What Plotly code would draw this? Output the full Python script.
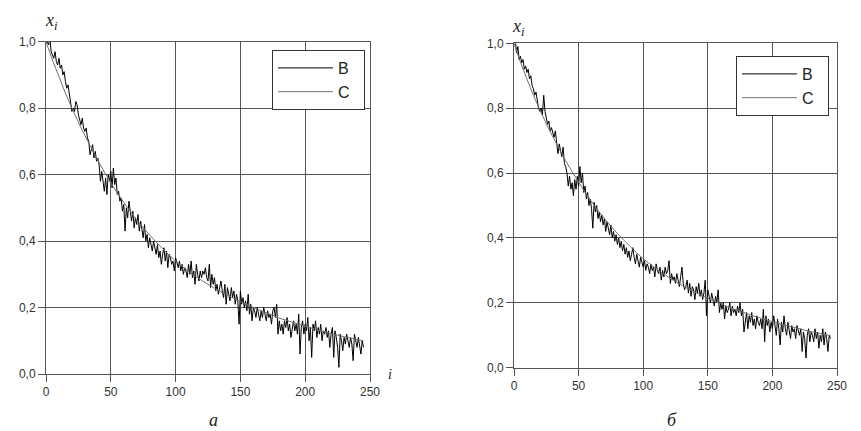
import plotly.graph_objects as go

# ---- data ----
i_B = list(range(1, 246))
B_a = [1.00, 0.99, 1.01, 0.97, 0.96, 0.95, 0.97, 0.94, 0.93, 0.95,
       0.92, 0.93, 0.90, 0.91, 0.88, 0.86, 0.87, 0.84, 0.82, 0.79,
       0.80, 0.79, 0.82, 0.81, 0.78, 0.76, 0.75, 0.77, 0.74, 0.73,
       0.74, 0.71, 0.70, 0.66, 0.68, 0.69, 0.65, 0.67, 0.64, 0.65,
       0.63, 0.58, 0.61, 0.57, 0.55, 0.59, 0.54, 0.60, 0.58, 0.61,
       0.56, 0.62, 0.57, 0.59, 0.54, 0.55, 0.52, 0.53, 0.49, 0.51,
       0.43, 0.50, 0.47, 0.52, 0.48, 0.46, 0.49, 0.44, 0.47, 0.45,
       0.48, 0.43, 0.46, 0.44, 0.41, 0.45, 0.40, 0.42, 0.38, 0.41,
       0.39, 0.37, 0.40, 0.38, 0.36, 0.39, 0.35, 0.37, 0.33, 0.36,
       0.38, 0.34, 0.37, 0.32, 0.36, 0.35, 0.33, 0.34, 0.31, 0.35,
       0.33, 0.32, 0.34, 0.31, 0.33, 0.30, 0.32, 0.31, 0.29, 0.33,
       0.30, 0.34, 0.29, 0.31, 0.27, 0.33, 0.30, 0.28, 0.31, 0.29,
       0.31, 0.30, 0.32, 0.29, 0.28, 0.33, 0.26, 0.30, 0.27, 0.29,
       0.25, 0.27, 0.24, 0.26, 0.28, 0.25, 0.23, 0.27, 0.21, 0.26,
       0.24, 0.22, 0.26, 0.23, 0.25, 0.21, 0.24, 0.22, 0.15, 0.25,
       0.21, 0.23, 0.20, 0.22, 0.19, 0.24, 0.18, 0.21, 0.16, 0.20,
       0.19, 0.17, 0.20, 0.18, 0.16, 0.19, 0.17, 0.20, 0.18, 0.16,
       0.19, 0.17, 0.18, 0.15, 0.19, 0.20, 0.17, 0.21, 0.12, 0.16,
       0.13, 0.15, 0.12, 0.16, 0.14, 0.17, 0.13, 0.15, 0.11, 0.14,
       0.16, 0.13, 0.15, 0.12, 0.18, 0.06, 0.14, 0.16, 0.12, 0.15,
       0.13, 0.17, 0.10, 0.14, 0.05, 0.15, 0.13, 0.16, 0.11, 0.14,
       0.12, 0.15, 0.10, 0.13, 0.12, 0.14, 0.11, 0.13, 0.08, 0.12,
       0.14, 0.05, 0.13, 0.11, 0.08, 0.02, 0.12, 0.10, 0.07, 0.11,
       0.09, 0.12, 0.10, 0.08, 0.11, 0.09, 0.04, 0.12, 0.10, 0.08,
       0.11, 0.09, 0.06, 0.10, 0.08]
B_b = [1.01, 0.97, 0.99, 0.95, 0.96, 0.94, 0.95, 0.92, 0.93, 0.91,
       0.92, 0.89, 0.90, 0.87, 0.86, 0.84, 0.85, 0.82, 0.80, 0.79,
       0.80, 0.78, 0.84, 0.79, 0.77, 0.75, 0.76, 0.73, 0.74, 0.72,
       0.71, 0.73, 0.70, 0.66, 0.69, 0.67, 0.65, 0.68, 0.63, 0.62,
       0.60, 0.56, 0.59, 0.55, 0.57, 0.53, 0.58, 0.55, 0.59, 0.56,
       0.62, 0.57, 0.60, 0.54, 0.56, 0.52, 0.54, 0.50, 0.52, 0.49,
       0.43, 0.51, 0.48, 0.50, 0.46, 0.48, 0.45, 0.47, 0.44, 0.46,
       0.42, 0.45, 0.43, 0.41, 0.44, 0.40, 0.42, 0.39, 0.41, 0.38,
       0.40, 0.37, 0.39, 0.36, 0.38, 0.35, 0.37, 0.34, 0.36, 0.33,
       0.35, 0.37, 0.34, 0.32, 0.35, 0.33, 0.31, 0.34, 0.32, 0.31,
       0.33, 0.30, 0.32, 0.31, 0.29, 0.32, 0.30, 0.31, 0.28, 0.32,
       0.30, 0.29, 0.31, 0.27, 0.30, 0.28, 0.31, 0.29, 0.30, 0.33,
       0.26, 0.29, 0.27, 0.28, 0.26, 0.29, 0.27, 0.25, 0.28, 0.31,
       0.26, 0.24, 0.25, 0.27, 0.23, 0.26, 0.22, 0.25, 0.24, 0.21,
       0.25, 0.23, 0.26, 0.22, 0.24, 0.21, 0.23, 0.27, 0.16, 0.24,
       0.22, 0.20, 0.23, 0.21, 0.19, 0.22, 0.20, 0.24, 0.17, 0.20,
       0.18, 0.20, 0.15, 0.19, 0.17, 0.18, 0.20, 0.16, 0.19, 0.17,
       0.18, 0.16, 0.19, 0.17, 0.20, 0.16, 0.18, 0.11, 0.15, 0.17,
       0.12, 0.16, 0.14, 0.17, 0.13, 0.15, 0.12, 0.16, 0.14, 0.13,
       0.15, 0.12, 0.18, 0.08, 0.16, 0.13, 0.15, 0.11, 0.14, 0.12,
       0.16, 0.13, 0.10, 0.15, 0.12, 0.07, 0.14, 0.11, 0.16, 0.12,
       0.10, 0.14, 0.12, 0.09, 0.13, 0.11, 0.12, 0.09, 0.13, 0.11,
       0.10, 0.12, 0.05, 0.11, 0.09, 0.03, 0.10, 0.12, 0.08, 0.11,
       0.10, 0.08, 0.12, 0.09, 0.11, 0.06, 0.10, 0.08, 0.12, 0.07,
       0.11, 0.09, 0.05, 0.10, 0.09]

i_C = list(range(0, 250, 5))
C_a = [1.00, 0.945, 0.895, 0.845, 0.80, 0.758, 0.718, 0.68, 0.643, 0.608,
       0.576, 0.545, 0.516, 0.489, 0.464, 0.44, 0.418, 0.397, 0.377, 0.358,
       0.34, 0.324, 0.309, 0.295, 0.282, 0.27, 0.258, 0.247, 0.237, 0.227,
       0.218, 0.209, 0.20, 0.192, 0.184, 0.177, 0.168, 0.162, 0.156, 0.150,
       0.144, 0.138, 0.132, 0.127, 0.122, 0.117, 0.112, 0.108, 0.104, 0.100]
C_b = [1.00, 0.942, 0.890, 0.840, 0.795, 0.752, 0.712, 0.675, 0.638, 0.604,
       0.572, 0.541, 0.512, 0.485, 0.460, 0.436, 0.414, 0.393, 0.373, 0.354,
       0.336, 0.320, 0.305, 0.291, 0.278, 0.266, 0.254, 0.243, 0.233, 0.223,
       0.214, 0.205, 0.197, 0.189, 0.181, 0.174, 0.167, 0.160, 0.154, 0.148,
       0.142, 0.136, 0.131, 0.126, 0.121, 0.116, 0.111, 0.107, 0.103, 0.099]

series_names = ["B", "C"]
x_ticks = [0, 50, 100, 150, 200, 250]
y_ticks = [0.0, 0.2, 0.4, 0.6, 0.8, 1.0]

# page has an 8px body margin; the figure fills the rest of the 861x431 window
W, H, OFF = 853, 423, 8


def px(xp):
    return (xp - OFF) / W


def py(yp):
    return 1 - (yp - OFF) / H


fig = go.Figure()
panels = [("x", "y", "legend", B_a, C_a), ("x2", "y2", "legend2", B_b, C_b)]
for xa, ya, lg, B, C in panels:
    fig.add_trace(go.Scatter(x=i_B, y=B, mode="lines", name=series_names[0] + "\u00a0\u00a0",
                             xaxis=xa, yaxis=ya, legend=lg, line=dict(color="black", width=1)))
    fig.add_trace(go.Scatter(x=i_C, y=C, mode="lines", name=series_names[1] + "\u00a0\u00a0",
                             xaxis=xa, yaxis=ya, legend=lg,
                             line=dict(color="#707070", width=1, shape="spline")))

grid = "#555555"
tickfont = dict(family="Liberation Sans, Arial, sans-serif", size=12, color="#333333")
ax_common = dict(showgrid=True, gridcolor=grid, gridwidth=1, showline=True, mirror=True,
                 linecolor=grid, linewidth=1, ticks="outside", tickcolor=grid, ticklen=7,
                 tickfont=tickfont, zeroline=False, automargin=False)

legfont = dict(family="Liberation Sans, Arial, sans-serif", size=16, color="#222222")
fig.update_layout(
    width=W, height=H, margin=dict(l=0, r=0, t=0, b=0, autoexpand=False),
    paper_bgcolor="white", plot_bgcolor="white", separators=",.",
    xaxis=dict(domain=[px(46), px(370)], range=[0, 250], tickvals=x_ticks, anchor="y", **ax_common),
    yaxis=dict(domain=[py(374), py(41.7)], range=[0, 1], tickvals=y_ticks, tickformat=".1f", anchor="x", **ax_common),
    xaxis2=dict(domain=[px(514), px(837)], range=[0, 250], tickvals=x_ticks, anchor="y2", **ax_common),
    yaxis2=dict(domain=[py(367.7), py(43.3)], range=[0, 1], tickvals=y_ticks, tickformat=".1f", anchor="x2", **ax_common),
    legend=dict(x=px(272), y=py(50), xanchor="left", yanchor="top", bgcolor="white",
                bordercolor="#333333", borderwidth=1, itemwidth=55, font=legfont),
    legend2=dict(x=px(736), y=py(56), xanchor="left", yanchor="top", bgcolor="white",
                 bordercolor="#333333", borderwidth=1, itemwidth=55, font=legfont),
)

serif = "Liberation Serif, Times New Roman, serif"
ann = [
    dict(text="<i>x<sub>i</sub></i>", x=51, y=21, size=18),
    dict(text="<i>i</i>", x=390, y=374, size=14),
    dict(text="<i>а</i>", x=213, y=420, size=18),
    dict(text="<i>x<sub>i</sub></i>", x=519, y=28, size=18),
    dict(text="<i>i</i>", x=855, y=369, size=14),
    dict(text="<i>б</i>", x=672, y=420, size=18),
]
for a in ann:
    fig.add_annotation(text=a["text"], xref="paper", yref="paper",
                       x=px(a["x"]), y=py(a["y"]), xanchor="center", yanchor="middle",
                       showarrow=False, font=dict(family=serif, size=a["size"], color="#222222"))

fig.write_html("out.html")
